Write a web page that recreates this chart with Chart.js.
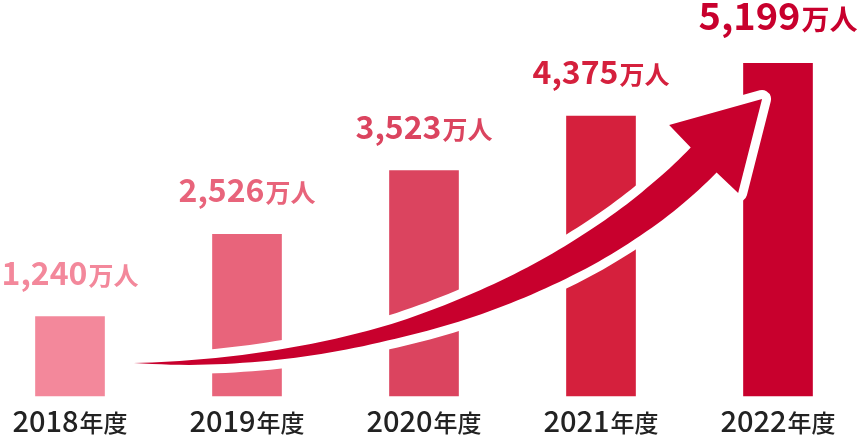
<!DOCTYPE html>
<html>
<head>
<meta charset="utf-8">
<script src="https://cdn.jsdelivr.net/npm/chart.js@4.4.1/dist/chart.umd.min.js"></script>
<style>
  html, body { margin: 0; padding: 0; background: #ffffff; }
  #wrap { width: 861px; height: 435px; }
</style>
</head>
<body>
<div id="wrap"><canvas id="c" width="861" height="435"></canvas></div>
<script>
// ---- data ----
const categories = ['2018年度', '2019年度', '2020年度', '2021年度', '2022年度'];
const values = [1240, 2526, 3523, 4375, 5199];
const valueUnit = '万人';
const barColors = ['#f3889b', '#e8647b', '#db445f', '#d5203d', '#c8002d'];
const arrowColor = '#c8002d';

// arrow guide (in category-index units / value units)
const arrowCurve = [[0.36, 515], [1.76, 437], [2.95, 1890], [3.58, 3687]];
const arrowHead = { tip: [3.91, 4640], left: [3.385, 4234], right: [3.775, 3172] };
const arrowWidth = [[0, 0], [0.08, 5], [0.2, 10], [0.37, 15], [0.5, 22], [0.72, 31], [0.88, 35], [1, 36]];

const FONT = '"Noto Sans CJK JP", "Noto Sans", sans-serif';

function widthAt(t) {
  for (let i = 1; i < arrowWidth.length; i++) {
    const [t0, w0] = arrowWidth[i - 1], [t1, w1] = arrowWidth[i];
    if (t <= t1) return w0 + (w1 - w0) * (t - t0) / (t1 - t0);
  }
  return arrowWidth[arrowWidth.length - 1][1];
}

const arrowPlugin = {
  id: 'arrow',
  afterDatasetsDraw(chart) {
    const xs = chart.scales.x, ys = chart.scales.y, ctx = chart.ctx;
    const x0 = xs.getPixelForValue(0), step = xs.getPixelForValue(1) - x0;
    const P = ([u, v]) => [x0 + u * step, ys.getPixelForValue(v)];
    const [p0, p1, p2, p3] = arrowCurve.map(P);
    const bez = (t, i) => {
      const m = 1 - t;
      return m*m*m*p0[i] + 3*m*m*t*p1[i] + 3*m*t*t*p2[i] + t*t*t*p3[i];
    };
    const der = (t, i) => {
      const m = 1 - t;
      return 3*m*m*(p1[i]-p0[i]) + 6*m*t*(p2[i]-p1[i]) + 3*t*t*(p3[i]-p2[i]);
    };
    const N = 80, upper = [], lower = [];
    for (let k = 0; k <= N; k++) {
      const t = k / N;
      const cx = bez(t, 0), cy = bez(t, 1);
      let dx = der(t, 0), dy = der(t, 1);
      const len = Math.hypot(dx, dy) || 1; dx /= len; dy /= len;
      const nx = -dy, ny = dx, h = widthAt(t) / 2;
      upper.push([cx - nx * h, cy - ny * h]);
      lower.push([cx + nx * h, cy + ny * h]);
    }
    const tip = P(arrowHead.tip), lb = P(arrowHead.left), rb = P(arrowHead.right);
    ctx.save();
    ctx.beginPath();
    ctx.moveTo(upper[0][0], upper[0][1]);
    upper.forEach(p => ctx.lineTo(p[0], p[1]));
    ctx.lineTo(lb[0], lb[1]);
    ctx.lineTo(tip[0], tip[1]);
    ctx.lineTo(rb[0], rb[1]);
    for (let k = lower.length - 1; k >= 0; k--) ctx.lineTo(lower[k][0], lower[k][1]);
    ctx.closePath();
    ctx.lineJoin = 'round';
    ctx.lineWidth = 18;
    ctx.strokeStyle = '#ffffff';
    ctx.stroke();
    ctx.fillStyle = arrowColor;
    ctx.fill();
    ctx.restore();
  }
};

function drawMixed(ctx, cx, baseline, parts) {
  let total = 0;
  parts.forEach(p => { ctx.font = p.font; p.w = ctx.measureText(p.text).width; total += p.w + (p.gap || 0); });
  let x = cx - total / 2;
  parts.forEach(p => {
    ctx.font = p.font; ctx.fillStyle = p.color;
    ctx.fillText(p.text, x, baseline);
    x += p.w + (p.gap || 0);
  });
}

const labelPlugin = {
  id: 'labels',
  afterDraw(chart) {
    const ctx = chart.ctx, meta = chart.getDatasetMeta(0);
    const xs = chart.scales.x;
    ctx.save();
    ctx.textBaseline = 'alphabetic';
    ctx.textAlign = 'left';
    meta.data.forEach((bar, i) => {
      const big = i === values.length - 1;
      const num = values[i].toLocaleString('en-US');
      drawMixed(ctx, bar.x, bar.y - (big ? 33 : 32), [
        { text: num, font: `700 ${big ? 38 : 32}px ${FONT}`, color: barColors[i], gap: 1 },
        { text: valueUnit, font: `700 ${big ? 28 : 25}px ${FONT}`, color: barColors[i] }
      ]);
    });
    categories.forEach((c, i) => {
      const m = c.match(/^(\d+)(.*)$/);
      drawMixed(ctx, xs.getPixelForValue(i), 432, [
        { text: m[1], font: `500 29px ${FONT}`, color: '#222222', gap: 1 },
        { text: m[2], font: `500 24px ${FONT}`, color: '#222222' }
      ]);
    });
    ctx.restore();
  }
};

new Chart(document.getElementById('c'), {
  type: 'bar',
  data: {
    labels: categories,
    datasets: [{
      data: values,
      backgroundColor: barColors,
      borderWidth: 0,
      barThickness: 69,
      clip: false
    }]
  },
  options: {
    responsive: false,
    animation: false,
    events: [],
    layout: { padding: { left: 70, right: 83, top: 12, bottom: 39 } },
    plugins: { legend: { display: false }, tooltip: { enabled: false } },
    scales: {
      x: { type: 'category', offset: false, display: false },
      y: { min: 0, max: 6000, display: false }
    }
  },
  plugins: [arrowPlugin, labelPlugin]
});
</script>
</body>
</html>
